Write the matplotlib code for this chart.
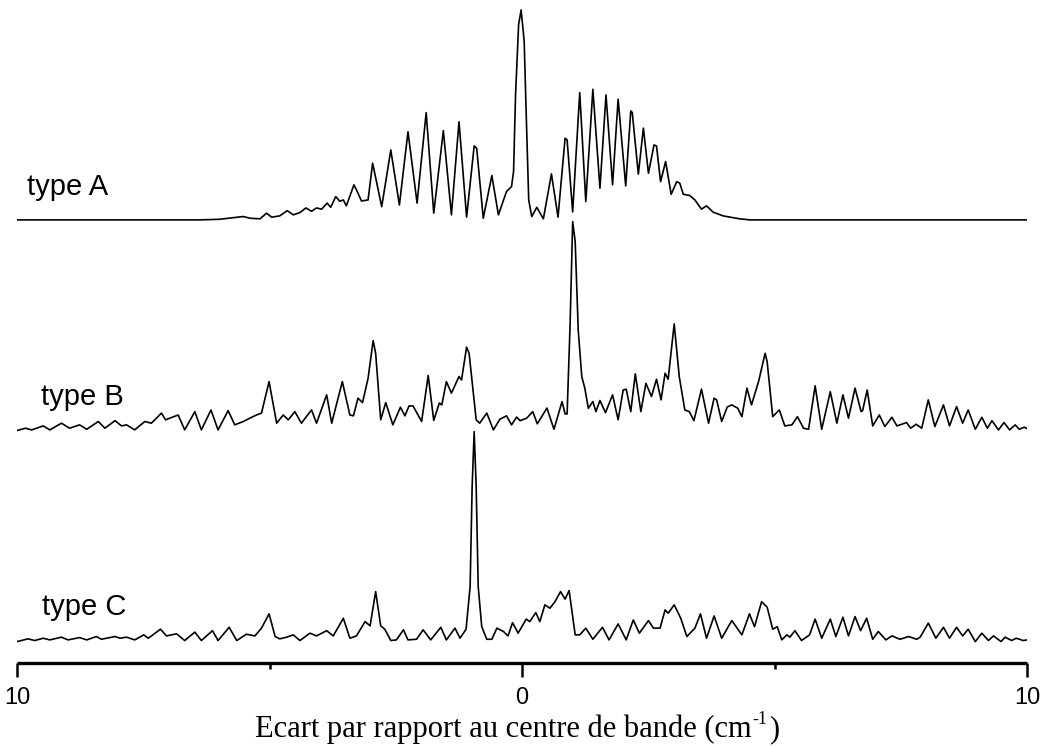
"""
Band contour simulations for the three band types (A, B, C),
stacked with a constant offset on a shared wavenumber-shift axis.
"""
import matplotlib
matplotlib.use("Agg")
import matplotlib.pyplot as plt

# (shift from band centre in cm-1, normalised intensity) -- extrema of each contour
TYPE_A = [
    (-10.0, 0.0), (-7.11, 0.0), (-6.38, 0.0), (-5.99, 0.003), (-5.52, 0.016),
    (-5.39, 0.008), (-5.19, 0.005), (-5.06, 0.032), (-4.96, 0.013), (-4.80, 0.019),
    (-4.65, 0.044), (-4.53, 0.024), (-4.40, 0.035), (-4.28, 0.057), (-4.17, 0.041),
    (-4.07, 0.057), (-3.97, 0.051), (-3.86, 0.080), (-3.79, 0.060), (-3.69, 0.111),
    (-3.61, 0.089), (-3.54, 0.095), (-3.48, 0.067), (-3.33, 0.167), (-3.28, 0.143),
    (-3.18, 0.090), (-3.05, 0.095), (-2.96, 0.270), (-2.78, 0.063), (-2.60, 0.333),
    (-2.43, 0.071), (-2.26, 0.420), (-2.08, 0.080), (-1.90, 0.511), (-1.75, 0.032),
    (-1.56, 0.425), (-1.40, 0.024), (-1.25, 0.467), (-1.10, 0.013), (-0.95, 0.352),
    (-0.90, 0.341), (-0.77, 0.008), (-0.60, 0.211), (-0.47, 0.024), (-0.31, 0.135),
    (-0.21, 0.159), (-0.17, 0.230), (-0.13, 0.600), (-0.07, 0.930), (-0.02, 1.0),
    (0.04, 0.850), (0.09, 0.424), (0.13, 0.095), (0.19, 0.016), (0.29, 0.060),
    (0.42, 0.005), (0.58, 0.219), (0.71, 0.013), (0.85, 0.389), (0.89, 0.381),
    (1.00, 0.038), (1.14, 0.606), (1.26, 0.087), (1.40, 0.622), (1.54, 0.151),
    (1.66, 0.595), (1.79, 0.167), (1.90, 0.575), (2.05, 0.162), (2.15, 0.519),
    (2.18, 0.511), (2.30, 0.218), (2.40, 0.437), (2.50, 0.222), (2.61, 0.357),
    (2.66, 0.352), (2.74, 0.182), (2.84, 0.278), (2.95, 0.122), (3.06, 0.182),
    (3.12, 0.175), (3.19, 0.122), (3.32, 0.116), (3.42, 0.095), (3.55, 0.051),
    (3.65, 0.067), (3.78, 0.037), (3.98, 0.019), (4.31, 0.005), (4.51, 0.0),
    (10.0, 0.0),
]

TYPE_B = [
    (-10.0, -0.003), (-9.83, 0.008), (-9.71, 0.0), (-9.48, 0.019), (-9.35, 0.0),
    (-9.12, 0.032), (-8.96, 0.008), (-8.76, 0.024), (-8.62, 0.003), (-8.39, 0.040),
    (-8.26, 0.008), (-8.06, 0.044), (-7.93, 0.019), (-7.83, 0.024), (-7.67, 0.0),
    (-7.47, 0.040), (-7.34, 0.032), (-7.14, 0.080), (-7.06, 0.048), (-6.81, 0.071),
    (-6.68, 0.0), (-6.48, 0.087), (-6.35, 0.0), (-6.16, 0.095), (-6.02, 0.0),
    (-5.82, 0.092), (-5.69, 0.024), (-5.52, 0.040), (-5.39, 0.056), (-5.26, 0.071),
    (-5.16, 0.080), (-5.01, 0.230), (-4.86, 0.032), (-4.73, 0.071), (-4.63, 0.048),
    (-4.50, 0.087), (-4.37, 0.032), (-4.17, 0.095), (-4.07, 0.032), (-3.87, 0.167),
    (-3.77, 0.032), (-3.56, 0.230), (-3.41, 0.071), (-3.34, 0.067), (-3.25, 0.151),
    (-3.16, 0.130), (-3.05, 0.246), (-2.95, 0.425), (-2.90, 0.365), (-2.80, 0.048),
    (-2.70, 0.130), (-2.56, 0.024), (-2.41, 0.108), (-2.32, 0.067), (-2.24, 0.114),
    (-2.16, 0.114), (-1.99, 0.040), (-1.86, 0.259), (-1.75, 0.045), (-1.64, 0.128),
    (-1.59, 0.119), (-1.50, 0.230), (-1.40, 0.175), (-1.25, 0.254), (-1.20, 0.238),
    (-1.10, 0.394), (-1.05, 0.365), (-0.91, 0.048), (-0.84, 0.032), (-0.70, 0.080),
    (-0.57, 0.0), (-0.44, 0.051), (-0.31, 0.067), (-0.21, 0.024), (-0.11, 0.061),
    (-0.04, 0.044), (0.09, 0.056), (0.21, 0.087), (0.30, 0.029), (0.49, 0.104),
    (0.63, 0.003), (0.79, 0.135), (0.85, 0.076), (0.89, 0.076), (0.95, 0.508),
    (1.00, 0.992), (1.05, 0.897), (1.11, 0.476), (1.18, 0.254), (1.24, 0.199),
    (1.31, 0.103), (1.40, 0.135), (1.46, 0.087), (1.54, 0.140), (1.65, 0.082),
    (1.79, 0.167), (1.90, 0.048), (2.00, 0.190), (2.06, 0.194), (2.15, 0.087),
    (2.24, 0.267), (2.35, 0.087), (2.45, 0.222), (2.56, 0.159), (2.66, 0.241),
    (2.75, 0.143), (2.83, 0.270), (2.89, 0.241), (3.01, 0.505), (3.11, 0.254),
    (3.22, 0.095), (3.31, 0.087), (3.40, 0.044), (3.55, 0.194), (3.69, 0.032),
    (3.80, 0.151), (3.85, 0.143), (3.95, 0.040), (4.06, 0.109), (4.15, 0.119),
    (4.27, 0.103), (4.35, 0.063), (4.45, 0.199), (4.54, 0.119), (4.68, 0.230),
    (4.81, 0.365), (4.85, 0.325), (4.96, 0.063), (5.09, 0.095), (5.20, 0.019),
    (5.34, 0.024), (5.45, 0.063), (5.57, 0.008), (5.67, 0.003), (5.80, 0.210),
    (5.93, 0.003), (6.10, 0.182), (6.23, 0.032), (6.35, 0.167), (6.46, 0.056),
    (6.59, 0.199), (6.71, 0.087), (6.74, 0.092), (6.83, 0.190), (6.94, 0.019),
    (7.07, 0.071), (7.18, 0.016), (7.32, 0.060), (7.42, 0.019), (7.61, 0.035),
    (7.69, 0.008), (7.80, 0.027), (7.91, 0.008), (8.04, 0.143), (8.17, 0.016),
    (8.34, 0.119), (8.46, 0.019), (8.60, 0.111), (8.72, 0.032), (8.83, 0.095),
    (8.97, 0.003), (9.10, 0.060), (9.21, 0.008), (9.30, 0.044), (9.43, 0.0),
    (9.54, 0.035), (9.65, 0.0), (9.76, 0.024), (9.84, 0.003), (9.94, 0.013),
    (10.0, 0.005),
]

TYPE_C = [
    (-10.0, -0.008), (-9.78, 0.005), (-9.65, -0.003), (-9.48, 0.008), (-9.35, 0.0),
    (-9.12, 0.013), (-8.99, 0.0), (-8.76, 0.011), (-8.62, 0.0), (-8.43, 0.016),
    (-8.33, 0.003), (-8.06, 0.016), (-7.96, 0.008), (-7.83, 0.013), (-7.67, 0.0),
    (-7.49, 0.024), (-7.40, 0.008), (-7.16, 0.051), (-7.04, 0.019), (-6.84, 0.029),
    (-6.68, -0.003), (-6.48, 0.037), (-6.35, -0.003), (-6.13, 0.044), (-6.02, -0.003),
    (-5.80, 0.060), (-5.65, -0.003), (-5.46, 0.027), (-5.29, 0.019), (-5.16, 0.056),
    (-5.01, 0.124), (-4.89, 0.016), (-4.80, 0.005), (-4.66, 0.013), (-4.53, 0.024),
    (-4.40, -0.003), (-4.20, 0.032), (-4.07, 0.019), (-3.87, 0.044), (-3.74, 0.019),
    (-3.54, 0.103), (-3.41, 0.008), (-3.28, 0.019), (-3.11, 0.087), (-3.01, 0.067),
    (-2.90, 0.230), (-2.80, 0.067), (-2.72, 0.051), (-2.60, -0.003), (-2.49, 0.0),
    (-2.35, 0.048), (-2.26, 0.0), (-2.09, 0.003), (-1.96, 0.048), (-1.81, 0.0),
    (-1.61, 0.060), (-1.50, 0.0), (-1.33, 0.056), (-1.23, 0.008), (-1.11, 0.051),
    (-1.03, 0.254), (-0.99, 0.730), (-0.95, 0.992), (-0.91, 0.730), (-0.87, 0.254),
    (-0.80, 0.063), (-0.70, 0.003), (-0.60, 0.003), (-0.50, 0.056), (-0.37, 0.040),
    (-0.28, 0.019), (-0.19, 0.082), (-0.08, 0.032), (0.08, 0.099), (0.15, 0.087),
    (0.27, 0.130), (0.35, 0.087), (0.45, 0.167), (0.55, 0.151), (0.65, 0.182),
    (0.76, 0.230), (0.85, 0.194), (0.93, 0.235), (1.05, 0.024), (1.14, 0.024),
    (1.26, 0.056), (1.40, 0.003), (1.59, 0.060), (1.72, 0.0), (1.90, 0.076),
    (2.06, 0.0), (2.20, 0.095), (2.32, 0.032), (2.50, 0.092), (2.60, 0.056),
    (2.73, 0.056), (2.83, 0.143), (2.89, 0.127), (3.01, 0.167), (3.14, 0.103),
    (3.26, 0.016), (3.42, 0.056), (3.53, 0.124), (3.65, 0.008), (3.80, 0.114),
    (3.95, 0.008), (4.15, 0.092), (4.35, 0.024), (4.50, 0.124), (4.60, 0.063),
    (4.74, 0.182), (4.85, 0.156), (4.96, 0.051), (5.05, 0.063), (5.14, 0.0),
    (5.24, 0.024), (5.30, 0.013), (5.40, 0.044), (5.53, -0.003), (5.69, 0.024),
    (5.80, 0.099), (5.93, 0.008), (6.10, 0.099), (6.21, 0.016), (6.35, 0.108),
    (6.46, 0.019), (6.59, 0.111), (6.70, 0.044), (6.82, 0.103), (6.94, 0.003),
    (7.05, 0.040), (7.20, 0.0), (7.32, 0.019), (7.48, 0.003), (7.65, 0.016),
    (7.81, 0.003), (7.88, 0.013), (8.04, 0.080), (8.19, 0.008), (8.34, 0.060),
    (8.46, 0.008), (8.60, 0.060), (8.72, 0.019), (8.83, 0.051), (8.97, -0.008),
    (9.10, 0.032), (9.23, -0.003), (9.33, 0.019), (9.48, -0.008), (9.56, 0.013),
    (9.69, -0.003), (9.78, 0.008), (9.92, -0.003), (10.0, 0.0),
]

BAND_LABELS = ["type A", "type B", "type C"]
OFFSETS = [2.11, 1.11, 0.11]          # vertical stacking of the contours
LABEL_X = [-9.81, -9.52, -9.50]        # where each label starts (cm-1)
TICKS = [-10, 0, 10]
TICK_LABELS = ["10", "0", "10"]
MINOR_TICKS = [-5, 5]
XLABEL = "Ecart par rapport au centre de bande (cm"


def draw_contour(ax, points, offset, label, label_x):
    xs = [p[0] for p in points]
    ys = [p[1] + offset for p in points]
    ax.plot(xs, ys, color="black", linewidth=1.2, solid_joinstyle="round")
    ax.text(label_x, offset + 0.119, label, fontsize=21,
            family="Liberation Sans", ha="left", va="baseline")


def main():
    fig = plt.figure(figsize=(10.42, 7.46), dpi=100)
    ax = fig.add_axes([17 / 1042, 83 / 746, 1010.3 / 1042, 663 / 746])

    for pts, off, lab, lx in zip([TYPE_A, TYPE_B, TYPE_C], OFFSETS, BAND_LABELS, LABEL_X):
        draw_contour(ax, pts, off, lab, lx)

    ax.set_xlim(-10, 10)
    ax.set_ylim(0, 663 / 210)

    for side in ("top", "right", "left"):
        ax.spines[side].set_visible(False)
    ax.spines["bottom"].set_linewidth(2.4)
    ax.spines["bottom"].set_capstyle("butt")
    ax.set_yticks([])

    ax.set_xticks(TICKS)
    ax.set_xticklabels(TICK_LABELS, family="Liberation Sans", fontsize=17)
    ax.set_xticks(MINOR_TICKS, minor=True)
    ax.tick_params(axis="x", which="major", direction="out", length=10,
                   width=1.8, pad=7)
    ax.tick_params(axis="x", which="minor", direction="out", length=4.5,
                   width=1.8)

    # axis title: main text, then the small raised "-1" and closing bracket
    serif = dict(family="Liberation Serif", va="baseline")
    base_y = 9 / 746
    main_txt = fig.text(255 / 1042, base_y, XLABEL, fontsize=22, ha="left", **serif)
    fig.canvas.draw()
    x_end = main_txt.get_window_extent().x1 / fig.bbox.width
    sup = fig.text(x_end + 1 / 1042, base_y + 13 / 746, "-1", fontsize=13,
                   ha="left", **serif)
    fig.canvas.draw()
    x_sup = sup.get_window_extent().x1 / fig.bbox.width
    fig.text(x_sup + 1 / 1042, base_y, ")", fontsize=22, ha="left", **serif)

    fig.savefig("out.png", dpi=100)


if __name__ == "__main__":
    main()
